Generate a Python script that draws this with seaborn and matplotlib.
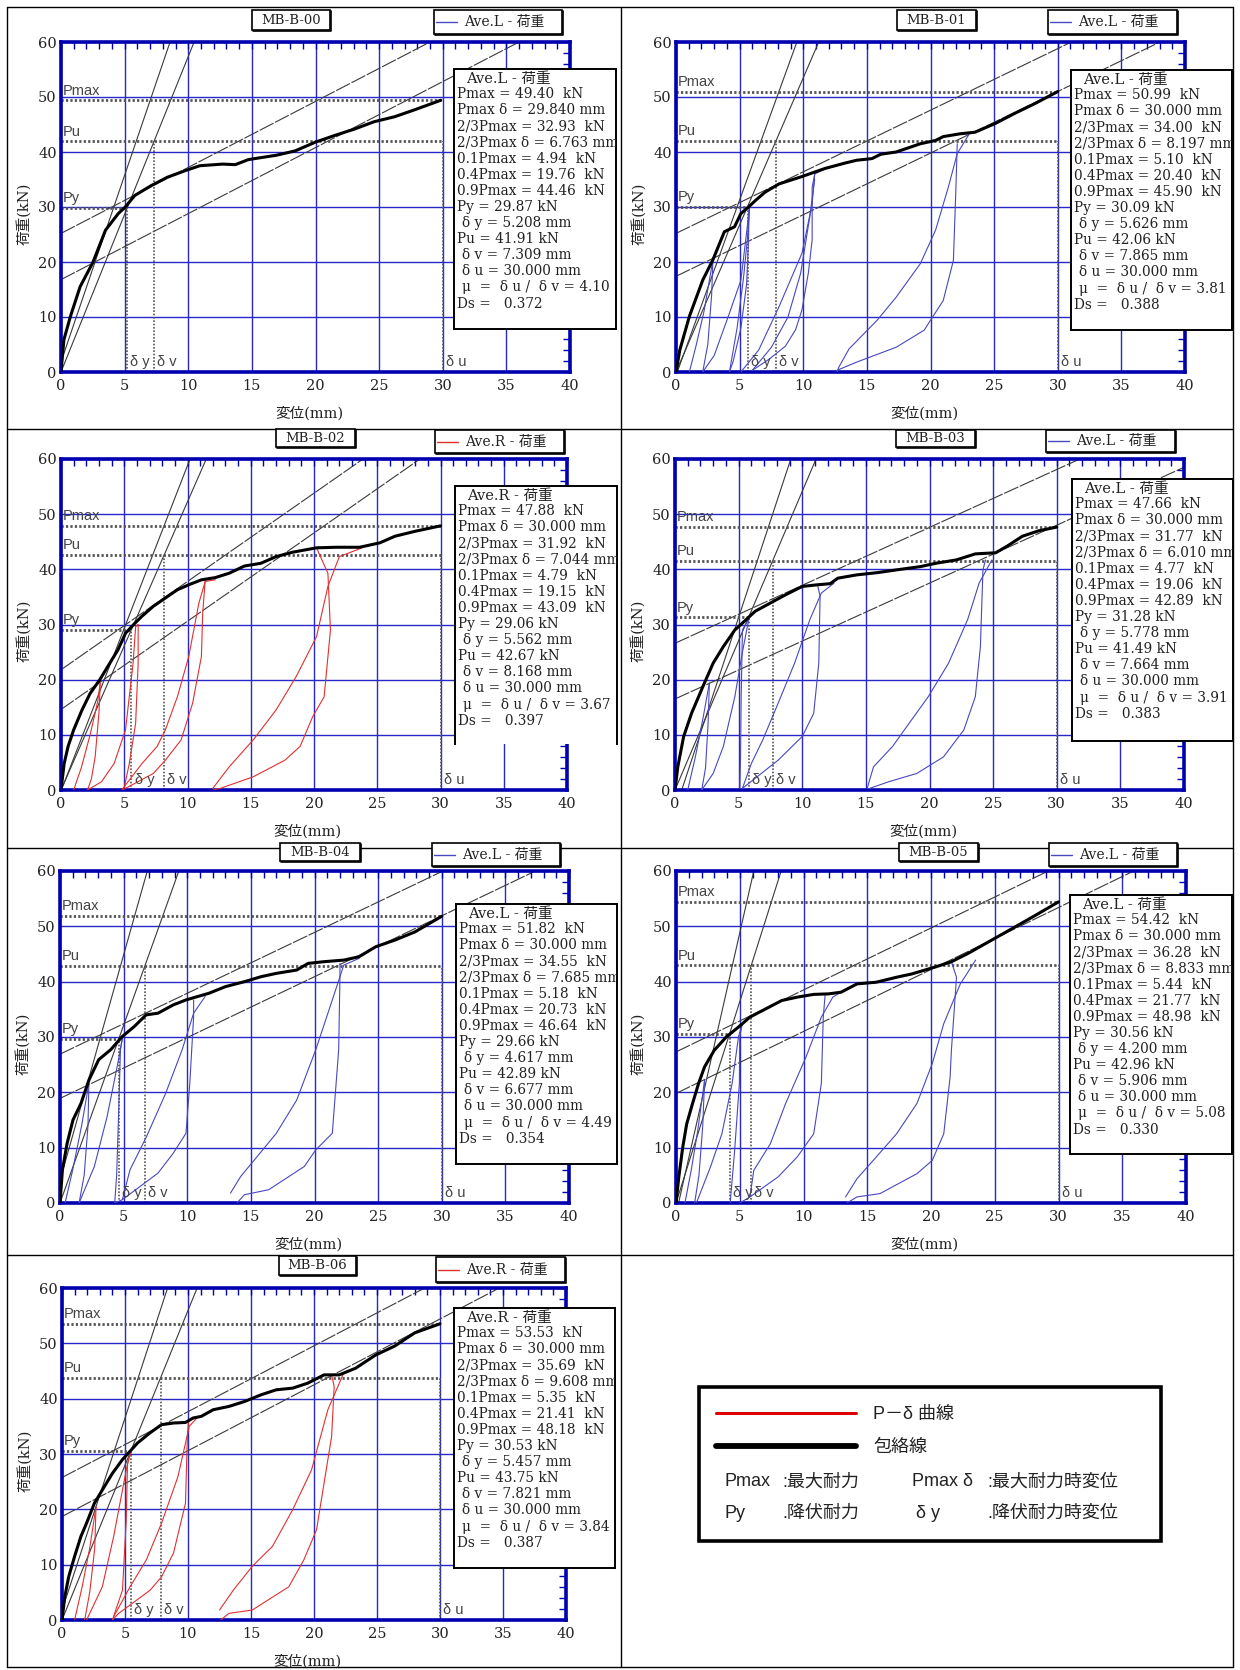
import matplotlib
matplotlib.use("Agg")
import matplotlib.pyplot as plt
from matplotlib.patches import Rectangle
from matplotlib.ticker import MultipleLocator
import seaborn as sns

sns.set_style("white")
SERIF = ["DejaVu Serif", "Noto Sans CJK JP"]
SANS = ["Liberation Sans", "DejaVu Sans", "Noto Sans CJK JP"]
plt.rcParams["font.family"] = SERIF
plt.rcParams["axes.unicode_minus"] = False

# ---------------------------------------------------------------- data
specimens = ["MB-B-00", "MB-B-01", "MB-B-02", "MB-B-03", "MB-B-04", "MB-B-05", "MB-B-06"]
sides = ["L", "L", "R", "L", "L", "L", "R"]

pmax = [49.40, 50.99, 47.88, 47.66, 51.82, 54.42, 53.53]
pmax_d = [29.840, 30.000, 30.000, 30.000, 30.000, 30.000, 30.000]
p23 = [32.93, 34.00, 31.92, 31.77, 34.55, 36.28, 35.69]
d23 = [6.763, 8.197, 7.044, 6.010, 7.685, 8.833, 9.608]
p01 = [4.94, 5.10, 4.79, 4.77, 5.18, 5.44, 5.35]
p04 = [19.76, 20.40, 19.15, 19.06, 20.73, 21.77, 21.41]
p09 = [44.46, 45.90, 43.09, 42.89, 46.64, 48.98, 48.18]
py = [29.87, 30.09, 29.06, 31.28, 29.66, 30.56, 30.53]
dy = [5.208, 5.626, 5.562, 5.778, 4.617, 4.200, 5.457]
pu = [41.91, 42.06, 42.67, 41.49, 42.89, 42.96, 43.75]
dv = [7.309, 7.865, 8.168, 7.664, 6.677, 5.906, 7.821]
du = [30.000, 30.000, 30.000, 30.000, 30.000, 30.000, 30.000]
mu = [4.10, 3.81, 3.67, 3.91, 4.49, 5.08, 3.84]
ds = [0.372, 0.388, 0.397, 0.383, 0.354, 0.330, 0.387]

# line I (through 0.1Pmax / 0.4Pmax): x at P=0 and x at P=60
line1_x0 = [-0.27, 0.10, 0.03, 0.53, -0.50, 0.20, -0.25]
line1_x60 = [8.57, 9.50, 10.20, 9.10, 6.86, 6.10, 8.38]
# lines II / III (0.4Pmax-0.9Pmax slope and its tangent parallel)
slope23 = [1.20, 1.12, 1.60, 1.05, 1.10, 1.12, 1.19]
icpt2 = [16.8, 17.4, 14.6, 16.5, 18.9, 19.8, 18.7]
icpt3 = [25.2, 25.2, 21.8, 26.6, 26.9, 27.3, 25.75]

# envelope curves (displacement mm, load kN)
env_b00 = ([0, 0.23, 0.74, 1.5, 2.5, 3.5, 4.5, 5.05, 5.8, 6.45, 7.1, 8.35, 9.75, 10.9, 12.7, 13.7,
            14.7, 15.5, 16.9, 18.4, 20.0, 21.5, 23.1, 24.6, 26.2, 27.7, 29.84],
           [0, 5.9, 10.1, 15.5, 19.9, 25.8, 28.8, 30.0, 32.1, 33.0, 33.9, 35.4, 36.6, 37.5, 37.8, 37.7,
            38.6, 38.9, 39.4, 40.2, 41.8, 43.0, 44.2, 45.5, 46.4, 47.6, 49.40])
env_b01 = ([0, 0.3, 1.05, 2.1, 2.9, 3.8, 4.6, 5.1, 5.7, 6.25, 7.0, 8.1, 9.85, 11.7, 13.3, 14.2,
            15.4, 16.1, 17.3, 19.2, 20.4, 21.0, 22.3, 23.5, 25.1, 26.6, 28.2, 30.0],
           [0, 4.0, 10.1, 16.7, 20.4, 25.5, 26.4, 28.8, 30.0, 31.2, 32.7, 34.2, 35.5, 37.0, 38.0, 38.5,
            38.8, 39.6, 40.0, 41.5, 42.1, 42.8, 43.3, 43.6, 45.2, 47.0, 48.8, 50.99])
env_b02 = ([0, 0.25, 0.56, 1.0, 1.66, 2.3, 3.07, 3.86, 4.5, 5.1, 5.7, 6.4, 7.3, 8.25, 9.2, 10.1,
            11.1, 12.2, 13.3, 14.5, 15.8, 17.0, 18.3, 20.2, 21.7, 23.6, 25.2, 26.4, 28.0, 30.0],
           [0, 4.8, 7.9, 10.9, 14.5, 17.5, 20.0, 23.0, 25.4, 28.4, 29.9, 31.5, 33.3, 34.8, 36.3, 37.2,
            38.1, 38.5, 39.3, 40.6, 41.1, 42.3, 43.1, 43.9, 44.0, 44.0, 44.8, 46.0, 46.9, 47.88])
env_b03 = ([0, 0.22, 0.68, 1.3, 2.2, 3.0, 3.8, 4.7, 5.6, 6.3, 7.5, 8.7, 10.0, 11.2, 12.2, 12.8,
            14.3, 15.9, 17.4, 19.3, 20.5, 22.1, 23.6, 25.2, 26.1, 27.3, 28.6, 30.0],
           [0, 4.2, 9.7, 13.9, 18.8, 23.0, 26.0, 29.0, 30.9, 32.4, 33.9, 35.4, 36.9, 37.2, 37.4, 38.4,
            39.0, 39.4, 39.9, 40.5, 41.1, 41.7, 42.8, 43.0, 44.2, 46.0, 47.0, 47.66])
env_b04 = ([0, 0.19, 0.56, 1.02, 1.65, 2.27, 3.04, 3.98, 4.9, 5.84, 6.77, 7.7, 8.9, 9.9, 10.8,
            11.7, 13.0, 14.5, 15.8, 17.0, 18.6, 19.5, 20.7, 22.3, 23.5, 24.8, 26.3, 27.9, 30.0],
           [0, 6.0, 10.8, 15.0, 18.0, 22.2, 25.9, 27.7, 30.1, 31.9, 34.0, 34.3, 35.8, 36.7, 37.3,
            37.9, 39.1, 40.0, 40.9, 41.5, 42.1, 43.3, 43.6, 43.9, 44.5, 46.3, 47.5, 49.0, 51.82])
env_b05 = ([0, 0.22, 0.53, 0.84, 1.3, 1.77, 2.24, 3.0, 3.94, 4.9, 5.8, 7.05, 8.3, 9.5, 10.8, 12.0,
            12.95, 14.2, 15.7, 17.3, 18.5, 20.4, 21.6, 22.9, 24.75, 26.6, 28.2, 30.0],
           [0, 4.7, 10.1, 14.3, 18.0, 21.6, 24.6, 27.6, 30.0, 31.8, 33.6, 35.1, 36.6, 37.2, 37.7, 37.8,
            38.1, 39.6, 39.9, 40.8, 41.4, 42.7, 43.6, 45.1, 47.5, 49.9, 52.0, 54.42])
env_b06 = ([0, 0.22, 0.53, 1.0, 1.5, 1.95, 2.57, 3.2, 4.0, 4.8, 5.4, 6.0, 6.97, 7.9, 8.85, 9.8,
            10.4, 11.05, 12.0, 13.25, 14.5, 15.8, 17.0, 18.3, 19.5, 20.8, 22.0, 23.3, 24.9, 26.4, 28.0, 30.0],
           [0, 4.2, 7.8, 11.5, 15.1, 17.5, 21.1, 23.5, 26.5, 29.0, 30.5, 32.0, 33.8, 35.3, 35.6, 35.7,
            36.5, 36.8, 38.0, 38.6, 39.5, 40.7, 41.6, 41.9, 42.8, 44.3, 44.3, 45.5, 47.9, 49.5, 51.9, 53.53])

# load / unload cycles (P-δ curves)
loops_b00 = []
loops_b01 = [
    ([1.05, 1.6, 2.2, 2.9, 2.8, 2.5, 2.1], [0, 5, 11, 20.4, 14, 5, 0]),
    ([2.1, 3.0, 4.2, 5.1, 5.6, 5.75, 5.7, 5.55, 5.1, 4.5, 4.2], [0, 3, 10.7, 16.7, 26.4, 30, 24, 16, 8, 2, 0]),
    ([4.2, 4.8, 5.3, 5.6, 5.8], [0, 8, 17, 24, 30.2]),
    ([5.1, 6.5, 8.1, 9.9, 10.7, 10.9, 11.6], [0, 4, 11.9, 21.6, 30.6, 36, 36.8]),
    ([10.9, 10.7, 10.7, 10.4, 9.9, 9.4, 8.6, 7.3, 6.0], [36, 33.6, 24, 18, 11.3, 7.7, 4.7, 2.3, 0.3]),
    ([6.0, 7.5, 8.8, 9.8, 10.5, 10.9], [0.3, 4.5, 10, 18, 28, 35]),
    ([12.65, 12.8, 13.6, 15.8, 17.3, 19.2, 20.4, 21.4, 22.1, 23.1], [0, 0.9, 4.2, 9.4, 13.6, 19.7, 25.8, 33.6, 39.7, 43.5]),
    ([22.1, 22.0, 21.8, 21.0, 19.5, 17.3, 14.2, 12.65], [41.5, 33.6, 20.3, 13, 7.6, 4.5, 1.8, 0.3]),
]
loops_b02 = [
    ([1.0, 1.6, 2.3, 2.9, 3.1], [0, 4, 10, 16, 19.4]),
    ([3.1, 3.0, 2.7, 2.4, 2.1], [19.4, 14, 6, 2, 0]),
    ([2.1, 3.2, 4.2, 5.1, 5.7, 5.9, 6.1], [0, 1.5, 4.8, 10.9, 23, 29.6, 30]),
    ([6.1, 6.1, 5.9, 5.4, 4.96], [30, 23, 12.1, 4.8, 0]),
    ([4.8, 6.4, 7.6, 8.25, 9.2, 10.1, 10.9, 11.4, 12.2], [0, 4.8, 7.9, 10.9, 16.9, 24.2, 33.9, 37.8, 38.1]),
    ([11.4, 11.2, 11.1, 10.4, 9.5, 8.25, 7.3, 5.1], [38.1, 32, 24.2, 15.7, 9.1, 5.4, 3, 0.3]),
    ([12.0, 13.3, 15.2, 17.0, 18.6, 20.2, 21.1, 22.0, 23.8], [0.3, 4.2, 9.1, 14.5, 20.6, 27.8, 36.9, 42.3, 43.9]),
    ([20.2, 21.1, 21.3, 20.8, 19.9, 18.9, 17.7, 15.2, 12.6, 12.0], [43.9, 39.3, 29, 16.9, 13.3, 7.9, 5.4, 2.4, 0.3, 0]),
]
loops_b03 = [
    ([1.0, 1.6, 2.2, 2.7], [0, 6, 13, 19.4]),
    ([2.7, 2.6, 2.4, 2.1], [19.4, 12, 4, 0]),
    ([2.1, 3.0, 3.8, 4.7, 5.3, 5.8], [0, 3, 7.9, 16.9, 25, 31]),
    ([5.8, 5.3, 5.2, 5.15, 5.1], [31, 29, 16.9, 6, 0.3]),
    ([5.3, 6.0, 6.9, 8.1, 9.4, 10.6, 11.5, 12.5], [0.3, 4.8, 9.1, 15.7, 23, 30.9, 35.7, 37.5]),
    ([11.2, 11.4, 11.3, 10.9, 10.0, 8.1, 5.3], [37.2, 35.1, 23, 13.9, 9.7, 5.4, 0.3]),
    ([15.1, 15.6, 17.1, 18.4, 19.9, 21.5, 23.0, 23.9, 24.9], [0.3, 4.2, 7.9, 12.1, 16.9, 23, 30.9, 37.5, 41.7]),
    ([24.4, 24.2, 24.0, 23.6, 22.7, 21.1, 19.0, 16.8, 15.3], [41.7, 39.9, 26, 16.9, 10.9, 6, 3, 1.5, 0.3]),
]
loops_b04 = [
    ([0.4, 1.0, 1.7, 2.27], [0, 6, 14, 21.6]),
    ([2.27, 2.2, 1.9, 1.5], [21.6, 14, 5, 0]),
    ([1.5, 2.7, 3.7, 4.6, 4.9], [0, 6.6, 15.6, 25.9, 29.8]),
    ([4.9, 4.75, 4.6, 4.45, 4.3], [29.8, 27.7, 15.6, 5, 0]),
    ([4.9, 5.5, 6.8, 8.3, 9.6, 10.5, 11.4], [0.6, 6, 12, 19.8, 27.7, 34.3, 37.3]),
    ([10.5, 10.5, 10.2, 9.9, 8.9, 7.7, 4.9, 4.3], [36.7, 33.7, 21.6, 12.6, 9, 5.4, 0.6, 0]),
    ([13.4, 14.2, 15.5, 17.0, 18.6, 20.1, 21.4, 22.3, 23.5], [1.8, 4.8, 8.4, 12.6, 18.6, 27.7, 36.7, 43, 44.2]),
    ([22.0, 22.0, 21.9, 21.4, 20.1, 19.2, 16.4, 14.5, 13.9], [43.3, 40.9, 27.7, 12.6, 9.6, 6.6, 2.4, 1.5, 0]),
]
loops_b05 = [
    ([0.7, 1.2, 1.7, 2.24], [0, 6, 13, 22.2]),
    ([2.24, 2.1, 1.8, 1.46], [22.2, 14, 5, 0]),
    ([1.6, 2.7, 3.6, 4.4, 4.9, 5.2], [0, 6.5, 12.5, 21.6, 30, 32.4]),
    ([5.2, 5.0, 4.97, 4.6, 4.25], [32.4, 30, 21.6, 9.5, 0]),
    ([5.8, 6.1, 7.4, 8.6, 10.2, 11.4, 12.3, 12.95], [1.1, 5.9, 10.7, 18, 26.4, 33.6, 37.2, 38.1]),
    ([11.7, 11.55, 11.4, 10.8, 9.5, 8.0, 5.8, 5.0], [37.7, 33.6, 21.6, 12.5, 8.3, 4.7, 1.1, 0]),
    ([13.3, 14.2, 15.7, 17.3, 18.9, 20.1, 21.0, 22.3, 23.5], [1.1, 4.4, 8.3, 12.5, 18, 25.2, 32.4, 39.6, 43.9]),
    ([21.6, 22.0, 21.6, 21.5, 21.0, 20.1, 18.9, 16.0, 14.2, 13.4], [43.6, 40.8, 27.6, 22.8, 12.5, 7.7, 5.3, 1.7, 1.1, 0]),
]
loops_b06 = [
    ([1.0, 1.6, 2.2, 2.7], [0, 6, 13, 20.5]),
    ([2.7, 2.6, 2.2, 1.8], [20.5, 13, 5, 0]),
    ([1.95, 3.2, 4.1, 5.1, 5.45], [0, 6, 15.1, 27.1, 30.5]),
    ([5.45, 5.2, 5.1, 4.8, 4.0], [30.5, 28.3, 18.1, 5.4, 0]),
    ([4.1, 5.4, 6.7, 7.9, 9.2, 10.1, 10.7], [0.6, 6, 10.9, 17.5, 25.9, 35, 36.5]),
    ([10.05, 9.95, 9.8, 8.85, 7.9, 7.0, 4.5, 4.0], [36.2, 33.2, 21.1, 12.1, 7.8, 5.4, 1.2, 0]),
    ([12.5, 13.6, 15.1, 16.7, 18.3, 19.8, 21.1, 22.35], [1.8, 5.4, 9.7, 13.3, 19.9, 27.1, 38, 44.6]),
    ([21.4, 21.6, 21.4, 20.2, 19.2, 18.0, 15.1, 13.25, 12.6], [44.3, 42.2, 33.2, 16.3, 10.9, 6, 1.8, 1.2, 0]),
]
envelopes = [env_b00, env_b01, env_b02, env_b03, env_b04, env_b05, env_b06]
loops = [loops_b00, loops_b01, loops_b02, loops_b03, loops_b04, loops_b05, loops_b06]

# ---------------------------------------------------------------- layout (figure pixels)
W, H = 1240, 1670
panel_px = [(61, 42, 570, 372), (676, 42, 1185, 372), (61, 459, 567, 790), (675, 459, 1184, 790),
            (60, 871, 569, 1203), (676, 871, 1186, 1203), (62, 1288, 566, 1620)]
textbox_px = [(454, 69, 616, 329), (1071, 70, 1232, 330), (455, 486, 617, 744), (1072, 479, 1233, 741),
              (456, 904, 617, 1164), (1070, 895, 1232, 1154), (454, 1308, 615, 1568)]
namebox_px = [(252, 10, 330, 30), (897, 10, 976, 30), (276, 429, 355, 447), (896, 430, 975, 447),
              (280, 843, 360, 861), (899, 843, 978, 861), (279, 1256, 356, 1275)]
legbox_px = [(434, 10, 562, 34), (1048, 10, 1177, 34), (435, 430, 564, 453), (1046, 430, 1175, 452),
             (432, 843, 560, 866), (1049, 843, 1177, 866), (436, 1257, 565, 1282)]

FRAME = "#0000B0"
GRID = "#2828C8"
BLUE = "#4848C0"
RED = "#E03030"
CONS = "#3a3a3a"
DOT = "#555555"


def frect(x0, y0, x1, y1):
    return [x0 / W, 1 - y1 / H, (x1 - x0) / W, (y1 - y0) / H]


fig = plt.figure(figsize=(W / 100, H / 100), dpi=100)

# overlay in pixel units for table rules, captions and key
over = fig.add_axes([0, 0, 1, 1], zorder=0)
over.set_xlim(0, W)
over.set_ylim(H, 0)
over.axis("off")
for x in (7, 621, 1233):
    over.plot([x, x], [7, 1667], color="black", lw=1.0, zorder=1)
for y in (7, 429, 848, 1255, 1667):
    over.plot([7, 1233], [y, y], color="black", lw=1.0, zorder=1)

for i in range(7):
    x0, y0, x1, y1 = namebox_px[i]
    over.add_patch(Rectangle((x0, y0), x1 - x0, y1 - y0, facecolor="white", edgecolor="black", lw=1.2, zorder=3))
    over.plot([x0 + 1, x1 + 1, x1 + 1], [y1 + 1, y1 + 1, y0 + 1], color="black", lw=1.2, zorder=3)
    over.text((x0 + x1) / 2, (y0 + y1) / 2, specimens[i], ha="center", va="center", fontsize=9.5,
              family=SERIF, color="#222", zorder=4)
    x0, y0, x1, y1 = legbox_px[i]
    over.add_patch(Rectangle((x0, y0), x1 - x0, y1 - y0, facecolor="white", edgecolor="black", lw=1.2, zorder=3))
    over.plot([x0 + 1, x1 + 1, x1 + 1], [y1 + 1, y1 + 1, y0 + 1], color="black", lw=1.2, zorder=3)
    ym = (y0 + y1) / 2
    col = RED if sides[i] == "R" else BLUE
    over.plot([x0 + 2, x0 + 23], [ym, ym], color=col, lw=1.0, zorder=4)
    over.text(x0 + 30, ym, f"Ave.{sides[i]} - 荷重", ha="left", va="center", fontsize=10,
              family=SERIF, color="#222", zorder=4)

# key for line types and symbols
over.add_patch(Rectangle((699, 1387), 462, 154, facecolor="white", edgecolor="black", lw=2.6, zorder=3))
over.plot([716, 856], [1413, 1413], color="#DD0000", lw=2.2, zorder=4)
over.plot([716, 856], [1446, 1446], color="black", lw=4.2, zorder=4)
kw = dict(va="center", ha="left", fontsize=13, family=SANS, color="#222", zorder=4)
over.text(873, 1414, "P－δ 曲線", **kw)
over.text(873, 1447, "包絡線", **kw)
over.text(725, 1482, "Pmax", **kw)
over.text(782, 1482, ":最大耐力", **kw)
over.text(912, 1482, "Pmax δ", **kw)
over.text(987, 1482, ":最大耐力時変位", **kw)
over.text(725, 1513, "Py", **kw)
over.text(782, 1513, ".降伏耐力", **kw)
over.text(916, 1513, "δ y", **kw)
over.text(987, 1513, ".降伏耐力時変位", **kw)

# ---------------------------------------------------------------- panels
for i in range(7):
    ax = fig.add_axes(frect(*panel_px[i]), zorder=2)
    col = RED if sides[i] == "R" else BLUE

    # construction lines
    ax.plot([line1_x0[i], line1_x60[i]], [0, 60], color=CONS, lw=0.8, zorder=2)
    kv = py[i] / dy[i]
    ax.plot([0, 60 / kv], [0, 60], color=CONS, lw=0.8, zorder=2)
    for b in (icpt2[i], icpt3[i]):
        xe = min(40.0, (60 - b) / slope23[i])
        ax.plot([0, xe], [b, b + slope23[i] * xe], color=CONS, lw=0.8, dashes=(14, 1.5), zorder=2)

    # characteristic levels
    hk = dict(color=DOT, lw=2.0, ls=(0, (0.8, 0.8)), zorder=2.5)
    vk = dict(color=DOT, lw=1.2, ls=(0, (1, 1)), zorder=2.5)
    ax.plot([0, pmax_d[i]], [pmax[i], pmax[i]], **hk)
    ax.plot([0, du[i]], [pu[i], pu[i]], **hk)
    ax.plot([0, dy[i]], [py[i], py[i]], **hk)
    ax.plot([dy[i], dy[i]], [0, py[i]], **vk)
    ax.plot([dv[i], dv[i]], [0, pu[i]], **vk)
    ax.plot([du[i], du[i]], [0, pu[i]], **vk)

    # load cycles and envelope
    for lx, ly in loops[i]:
        sns.lineplot(x=lx, y=ly, sort=False, estimator=None, color=col, lw=0.8, ax=ax, zorder=3)
    ex, ey = envelopes[i]
    sns.lineplot(x=ex, y=ey, sort=False, estimator=None, color="black", lw=2.2, ax=ax, zorder=4)

    lk = dict(fontsize=10.5, family=SANS, color="#444", zorder=5)
    ax.text(0.15, pmax[i] + 0.5, "Pmax", va="bottom", ha="left", **lk)
    ax.text(0.15, pu[i] + 0.5, "Pu", va="bottom", ha="left", **lk)
    ax.text(0.15, py[i] + 0.5, "Py", va="bottom", ha="left", **lk)
    ax.text(dy[i] + 0.25, 0.5, "δ y", va="bottom", ha="left", **lk)
    ax.text(dv[i] + 0.25, 0.5, "δ v", va="bottom", ha="left", **lk)
    ax.text(du[i] + 0.25, 0.5, "δ u", va="bottom", ha="left", **lk)

    ax.set_xlim(0, 40)
    ax.set_ylim(0, 60)
    ax.xaxis.set_major_locator(MultipleLocator(5))
    ax.yaxis.set_major_locator(MultipleLocator(10))
    ax.xaxis.set_minor_locator(MultipleLocator(1))
    ax.yaxis.set_minor_locator(MultipleLocator(2))
    ax.grid(True, which="major", color=GRID, lw=1.0, zorder=1)
    ax.set_axisbelow(True)
    ax.tick_params(which="both", direction="in", top=True, right=True, color=FRAME,
                   length=5, width=1.0, labelsize=10.5, labelcolor="#222")
    ax.tick_params(axis="x", which="major", pad=5)
    ax.tick_params(axis="y", which="major", pad=3)
    for sp in ax.spines.values():
        sp.set_color(FRAME)
        sp.set_linewidth(2.6)
    ax.set_xlabel("")
    ax.set_ylabel("")
    ax.text(0.487, -0.125, "変位(mm)", transform=ax.transAxes, ha="center", va="center",
            fontsize=10.5, family=SERIF, color="#222")
    ax.text(-0.074, 0.48, "荷重(kN)", transform=ax.transAxes, ha="center", va="center",
            rotation=90, fontsize=10.5, family=SERIF, color="#222")

    # result summary box
    bx0, by0, bx1, by1 = textbox_px[i]
    tb = fig.add_axes(frect(bx0, by0, bx1, by1), zorder=6)
    tb.set_xlim(0, bx1 - bx0)
    tb.set_ylim(by1 - by0, 0)
    tb.set_xticks([])
    tb.set_yticks([])
    tb.set_facecolor("white")
    for sp in tb.spines.values():
        sp.set_color("black")
        sp.set_linewidth(1.4)
    if i == 2:
        tb.spines["bottom"].set_visible(False)
    rows = [
        (3, f"Pmax = {pmax[i]:.2f}  kN"),
        (3, f"Pmax δ = {pmax_d[i]:.3f} mm"),
        (3, f"2/3Pmax = {p23[i]:.2f}  kN"),
        (3, f"2/3Pmax δ = {d23[i]:.3f} mm"),
        (3, f"0.1Pmax = {p01[i]:.2f}  kN"),
        (3, f"0.4Pmax = {p04[i]:.2f}  kN"),
        (3, f"0.9Pmax = {p09[i]:.2f}  kN"),
        (3, f"Py = {py[i]:.2f} kN"),
        (8, f"δ y = {dy[i]:.3f} mm"),
        (3, f"Pu = {pu[i]:.2f} kN"),
        (8, f"δ v = {dv[i]:.3f} mm"),
        (8, f"δ u = {du[i]:.3f} mm"),
        (8, f"μ  =  δ u /  δ v = {mu[i]:.2f}"),
        (3, f"Ds =   {ds[i]:.3f}"),
    ]
    tb.text(12, 10, f"Ave.{sides[i]} - 荷重", ha="left", va="center", fontsize=10.5,
            family=SERIF, color="#222", clip_on=True)
    for k, (xo, s) in enumerate(rows):
        tb.text(xo, 25.3 + 16.1 * k, s, ha="left", va="center", fontsize=9.8,
                family=SERIF, color="#222", clip_on=True)

fig.savefig("out.png", dpi=100)
